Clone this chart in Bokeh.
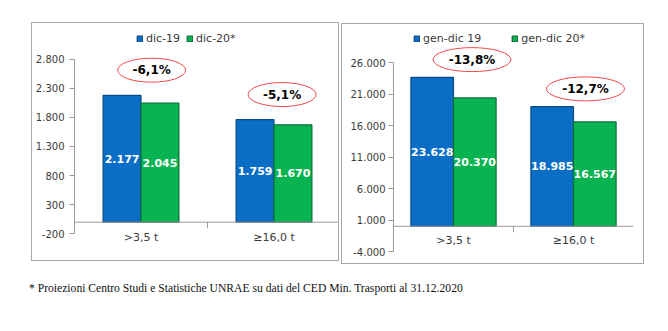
from bokeh.plotting import figure
from bokeh.models import (FactorRange, Range1d, FixedTicker, Span, Legend, LegendItem,
                          ColumnDataSource, Div)
from bokeh.transform import dodge
from bokeh.layouts import row, column
from bokeh.embed import file_html
from bokeh.resources import INLINE
from bokeh.core.properties import value

# ---------------- data ----------------
categories = [">3,5 t", "≥16,0 t"]

left_series = ["dic-19", "dic-20*"]
left_2019 = [2177, 1759]
left_2020 = [2045, 1670]
left_ticks = [-200, 300, 800, 1300, 1800, 2300, 2800]

right_series = ["gen-dic 19", "gen-dic 20*"]
right_2019 = [23628, 18985]
right_2020 = [20370, 16567]
right_ticks = [-4000, 1000, 6000, 11000, 16000, 21000, 26000]

footnote = "* Proiezioni Centro Studi e Statistiche UNRAE su dati del CED Min. Trasporti al 31.12.2020"

# ---------------- style ----------------
BLUE = "#0B6EC6"
BLUE_DARK = "#0A4A86"
GREEN = "#08B451"
GREEN_DARK = "#0A6E36"
AXIS = "#9A9A9A"
TXT = "#3A3A3A"
FONT = "DejaVu Sans"


def it_num(v):
    return f"{v:,}".replace(",", ".")


def pct(a, b):
    return f"{(b - a) / a * 100:.1f}%".replace(".", ",")


def panel(series, v1, v2, ticks, width, height, left_b, right_b, tick_span_px,
          pad_top_px, bar_w, std, ell_dx, ell_off, ell_w, ell_h, leg_xy, leg_spacing,
          lab_off, margin):
    upp = (ticks[-1] - ticks[0]) / tick_span_px          # data units per pixel
    pad_bot_px = height - tick_span_px - pad_top_px
    y_lo = ticks[0] - pad_bot_px * upp
    y_hi = ticks[-1] + pad_top_px * upp
    p = figure(width=width, height=height, output_backend="svg", toolbar_location=None,
               x_range=FactorRange(*categories, range_padding=0),
               y_range=Range1d(y_lo, y_hi),
               x_axis_location=None,
               min_border_left=left_b, min_border_right=right_b, min_border_top=0,
               min_border_bottom=0)
    p.margin = margin
    p.styles = {"border": "1px solid #A8A8A8"}
    p.outline_line_color = None
    p.grid.visible = False
    p.background_fill_color = "white"
    p.border_fill_color = "white"

    ax = p.yaxis[0]
    ax.ticker = FixedTicker(ticks=ticks)
    ax.bounds = (ticks[0], ticks[-1])
    ax.major_label_overrides = {t: it_num(t) for t in ticks}
    ax.major_label_text_font = FONT
    ax.major_label_text_font_size = "10px"
    ax.major_label_text_color = TXT
    ax.major_label_standoff = std
    ax.axis_line_color = AXIS
    ax.major_tick_line_color = AXIS
    ax.major_tick_out = 5
    ax.major_tick_in = 0
    ax.minor_tick_line_color = None

    src = ColumnDataSource(dict(
        cat=categories, v1=v1, v2=v2,
        h1=[v / 2 for v in v1], h2=[v / 2 for v in v2],
        t1=[it_num(v) for v in v1], t2=[it_num(v) for v in v2],
        pct=[pct(a, b) for a, b in zip(v1, v2)],
        ey=[max(a, b) + ell_off for a, b in zip(v1, v2)],
        zero=[0] * len(categories),
    ))

    off = bar_w / 2
    r1 = p.vbar(x=dodge("cat", -off, range=p.x_range), top="v1", width=bar_w, source=src,
                fill_color=BLUE, line_color=BLUE_DARK, line_width=1.2)
    r2 = p.vbar(x=dodge("cat", off, range=p.x_range), top="v2", width=bar_w, source=src,
                fill_color=GREEN, line_color=GREEN_DARK, line_width=1.2)

    # zero axis line
    p.add_layout(Span(location=0, dimension="width", line_color=AXIS, line_width=1))

    # category separator tick
    bsrc = ColumnDataSource(dict(x=categories[:-1], y0=[0] * (len(categories) - 1),
                                 y1=[-6 * upp] * (len(categories) - 1)))
    p.segment(x0=dodge("x", 0.5, range=p.x_range), x1=dodge("x", 0.5, range=p.x_range),
              y0="y0", y1="y1", source=bsrc, line_color=AXIS, line_width=1)

    # category labels below zero line
    p.text(x="cat", y="zero", text="cat", source=src, y_offset=lab_off,
           text_font=value(FONT), text_font_size="11px", text_color=TXT,
           text_align="center", text_baseline="top")

    # value labels
    for key, hk, sign in (("t1", "h1", -1), ("t2", "h2", 1)):
        p.text(x=dodge("cat", sign * off, range=p.x_range), y=hk, text=key, source=src,
               text_font=value(FONT), text_font_size="11px", text_font_style="bold",
               text_color="white", text_align="center", text_baseline="middle")

    # percentage ellipses (one per category, each nudged right of its pair)
    for i, dx in enumerate(ell_dx):
        view_src = ColumnDataSource(dict(cat=[categories[i]], ey=[src.data["ey"][i]],
                                         pct=[src.data["pct"][i]]))
        p.ellipse(x=dodge("cat", dx, range=p.x_range), y="ey", width=ell_w, height=ell_h,
                  width_units="screen", height_units="screen", source=view_src,
                  fill_color=None, line_color="#F0484A", line_width=1)
        p.text(x=dodge("cat", dx, range=p.x_range), y="ey", text="pct", source=view_src,
               text_font=value(FONT), text_font_size="12px", text_font_style="bold",
               text_color="black", text_align="center", text_baseline="middle")

    leg = Legend(items=[LegendItem(label=series[0], renderers=[r1]),
                        LegendItem(label=series[1], renderers=[r2])],
                 location=leg_xy, orientation="horizontal", padding=0, margin=0,
                 spacing=leg_spacing, label_standoff=3, glyph_width=7, glyph_height=7,
                 label_height=12, label_width=10, label_text_font=FONT,
                 label_text_font_size="11px", label_text_color=TXT,
                 border_line_color=None, background_fill_alpha=0)
    p.add_layout(leg, "center")
    return p


p1 = panel(left_series, left_2019, left_2020, left_ticks, 308, 239, 39, 0, 174.8, 35.5,
           0.285, 5, (0.08, 0.061), 431, 68, 24, (62, 217), 6, 9, (22, 0, 0, 31))
p2 = panel(right_series, right_2019, right_2020, right_ticks, 303, 241, 51, 12, 189, 38,
           0.355, 3, (0.154, 0.10), 2830, 78, 24, (20, 220), 30, 8, (23, 0, 0, 2))

note = Div(text=footnote, width=640, height=20, margin=(15, 0, 0, 29),
           styles={"font-family": "Liberation Serif", "font-size": "13.5px",
                   "line-height": "18px", "color": "#111", "white-space": "nowrap",
                   "transform": "scaleX(0.86)", "transform-origin": "left center"})

layout = column(row(p1, p2), note)
open("out.html", "w").write(file_html(layout, INLINE))
